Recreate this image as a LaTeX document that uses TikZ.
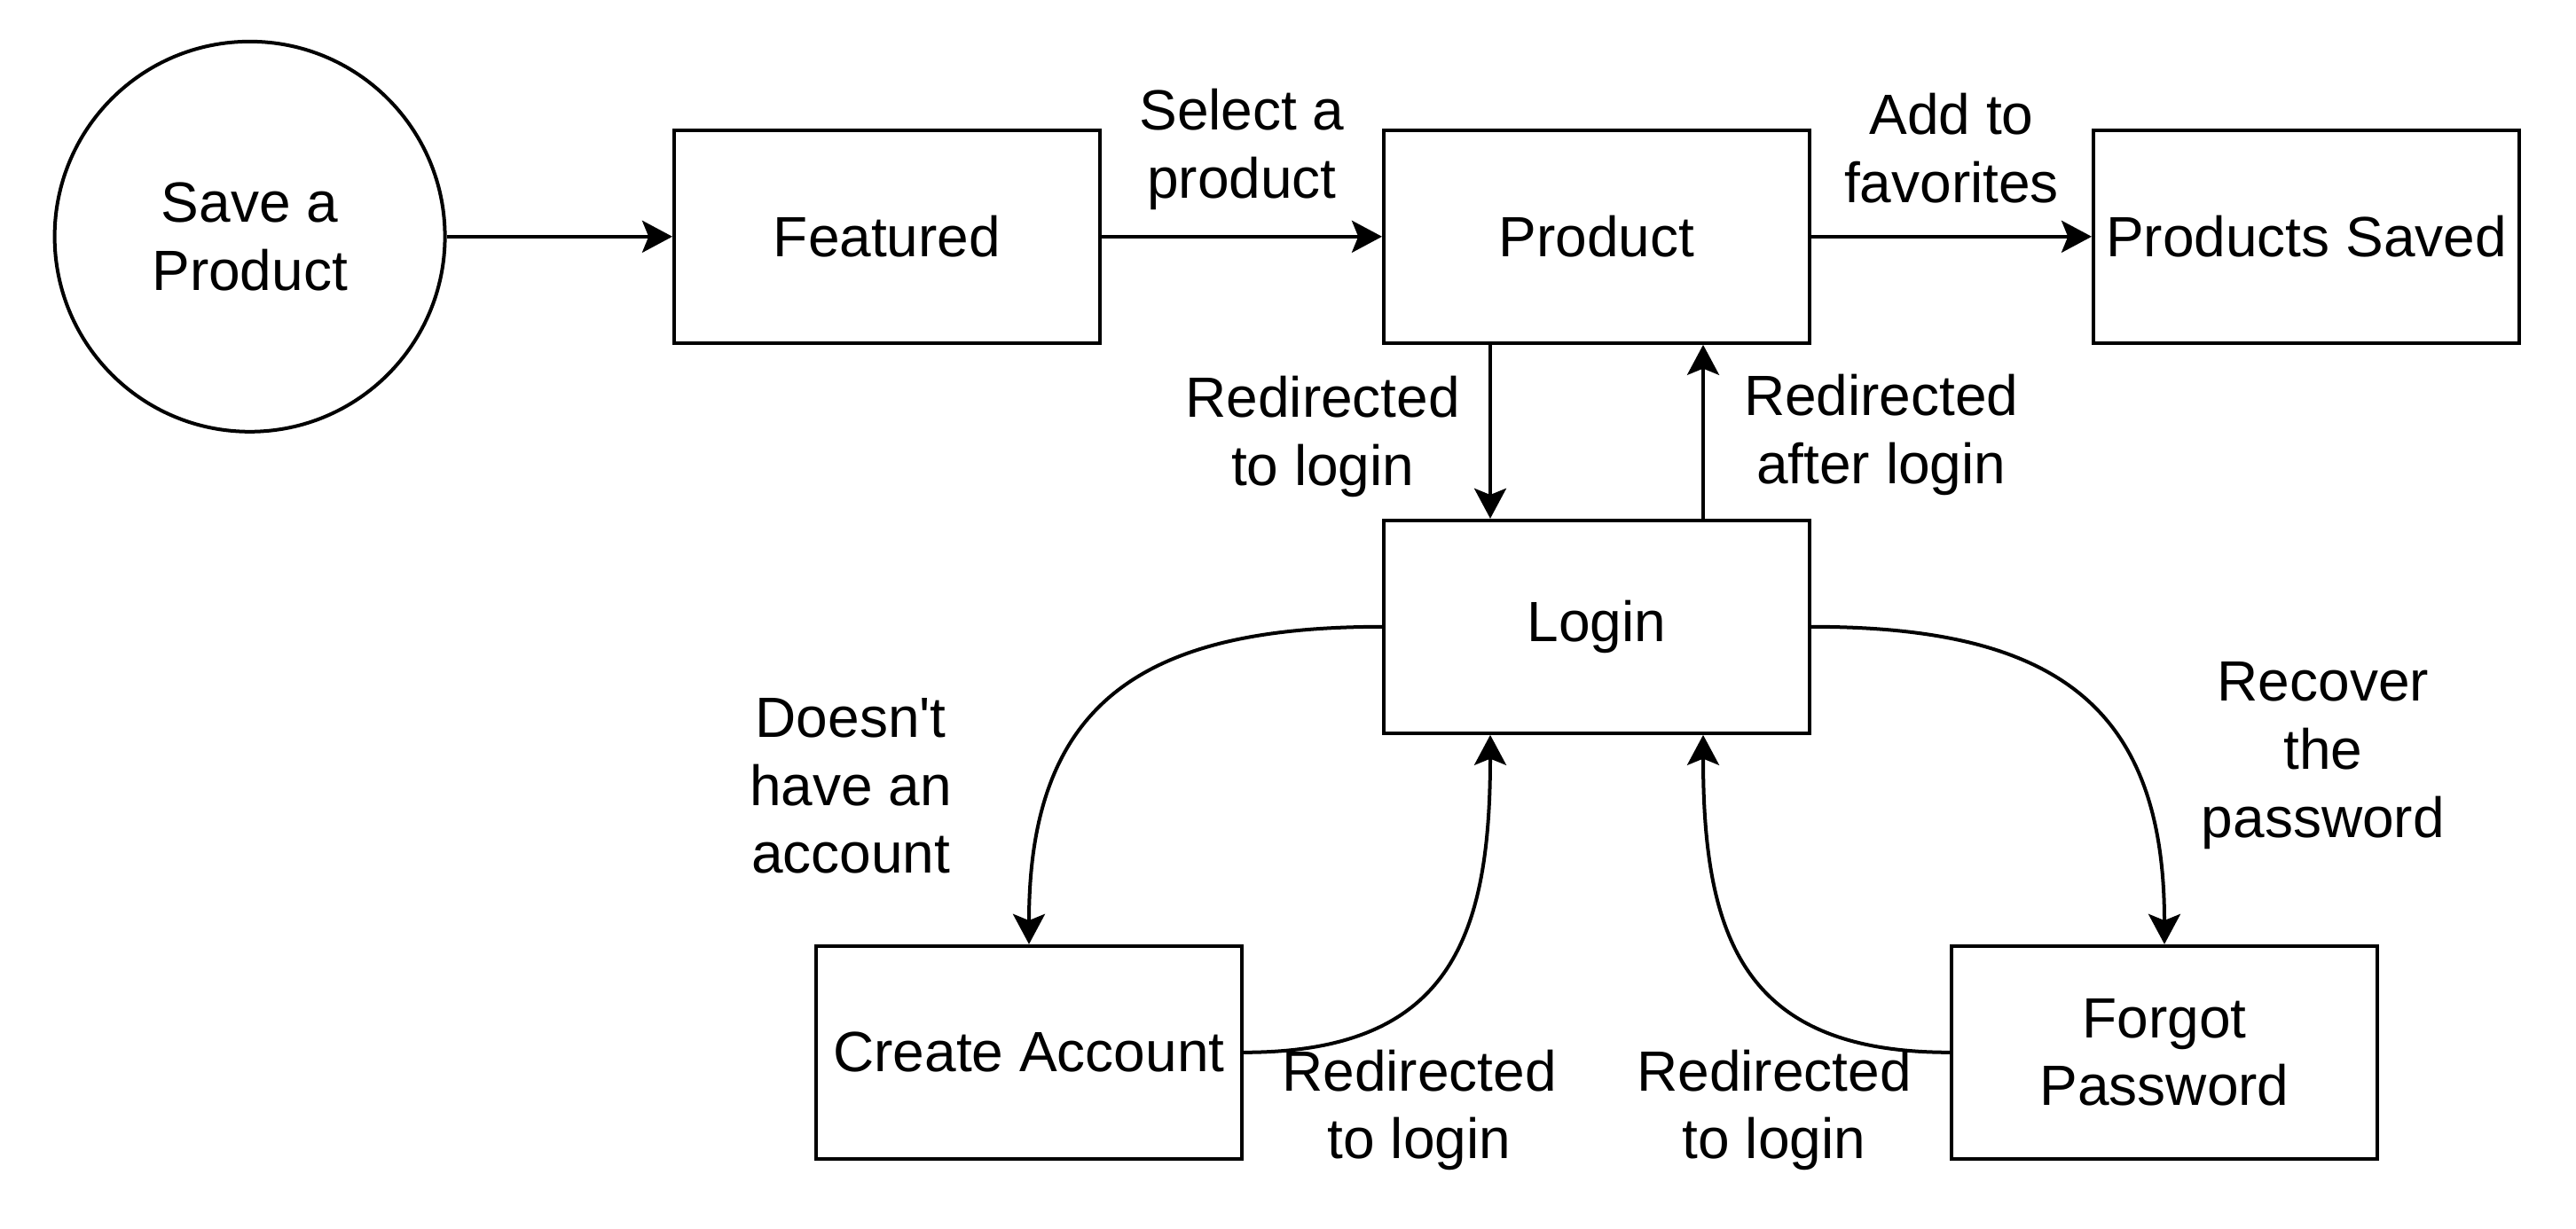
\documentclass[tikz,border=0pt]{standalone}
\usepackage{fontspec}
\setmainfont{Liberation Sans}
\usetikzlibrary{shapes,arrows.meta}
\tikzstyle{terminal} = [circle, minimum size=110pt, inner sep=0pt, align=center, draw=black, line width=1pt]
\tikzstyle{process} = [rectangle, minimum width=120pt, minimum height=60pt, inner sep=2pt, align=center, draw=black, line width=1pt]
\tikzstyle{edgetext} = [align=center, inner sep=3pt]
\tikzstyle{arrow} = [line width=1pt, -{Stealth[length=8.5pt, width=9pt, inset=1.8pt]}]

\begin{document}
\begin{tikzpicture}[x=1pt, y=1pt, node distance=200pt, font=\fontsize{16}{19.2}\selectfont]
\fill[white] (0,0) rectangle (726,-346.25);
\useasboundingbox (0,0) rectangle (726,-346.25);
\node (save) [terminal] at (70.4,-66.7) {Save a\\Product};
\node (featured) [process] at (250,-66.7) {Featured};
\node (product) [process, right of=featured] {Product};
\node (saved) [process, right of=product] {Products Saved};
\node (login) [process, below of=product, node distance=110pt] {Login};
\node (create) [process, below of=login, node distance=120pt, xshift=-160pt] {Create Account};
\node (forgot) [process, below of=login, node distance=120pt, xshift=160pt] {Forgot\\Password};

\draw [arrow] (save) -- (featured);
\draw [arrow] (featured) -- node[edgetext, above=4pt] (lblselect) {Select a\\product} (product);
\draw [arrow] (product) -- node[edgetext, above=6pt] (lblfav) {Add to\\favorites} (saved);
\draw [arrow] ([xshift=-30pt]product.south) -- node[edgetext, left=5pt, yshift=-1.5pt] (lbltologin) {Redirected\\to login} ([xshift=-30pt]login.north);
\draw [arrow] ([xshift=30pt]login.north) -- node[edgetext, right=8pt, yshift=-1pt] (lblafter) {Redirected\\after login} ([xshift=30pt]product.south);
\draw [arrow] (login.west) to[out=180, in=90, looseness=1.3] (create.north);
\draw [arrow] (create.east) to[out=0, in=-90, looseness=1.3] ([xshift=-30pt]login.south);
\draw [arrow] (login.east) to[out=0, in=90, looseness=1.3] (forgot.north);
\draw [arrow] (forgot.west) to[out=180, in=-90, looseness=1.3] ([xshift=30pt]login.south);

\node (lblnoacc) [edgetext] at (239.8,-221.6) {Doesn\textquotesingle t\\have an\\account};
\node (lblrecover) [edgetext] at (654.7,-213) {Recover\\the\\password};
\node (lblback1) [edgetext] at (400,-313) {Redirected\\to login};
\node (lblback2) [edgetext] at (500,-313) {Redirected\\to login};
\end{tikzpicture}
\end{document}
